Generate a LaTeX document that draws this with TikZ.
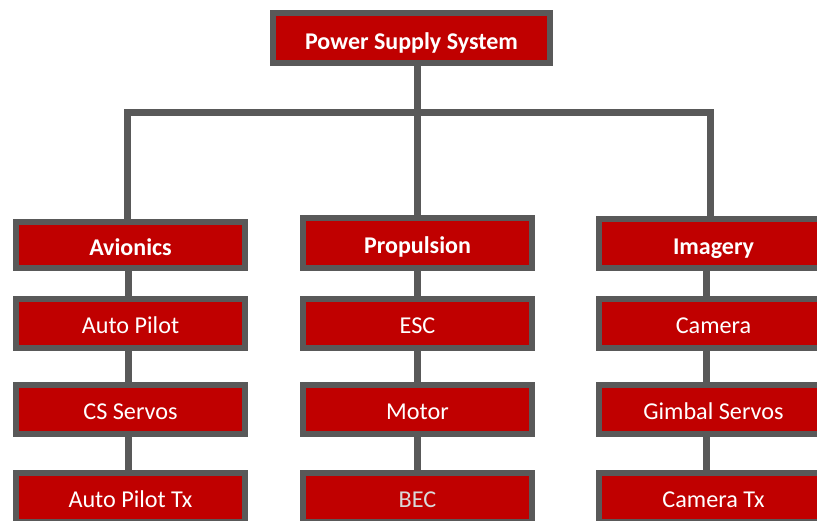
\documentclass[tikz,border=0pt]{standalone}
\usepackage{fontspec}
\setmainfont{Carlito}
\usepackage{tikz}
\definecolor{boxred}{HTML}{C00000}
\definecolor{rimgray}{HTML}{595959}
\definecolor{dimtxt}{HTML}{D9D9D9}
\tikzset{
	blk/.style={draw=rimgray,line width=6pt,fill=boxred,text=white,inner sep=0pt,minimum width=229pt,minimum height=49pt,font=\fontsize{24.2}{24}\selectfont,text height=20pt,text depth=0pt},
	head/.style={blk,font=\fontsize{24}{24}\selectfont\bfseries,text height=21pt},
	wire/.style={draw=rimgray,line width=7pt}
}

\begin{document}
\begin{tikzpicture}[x=1pt,y=-1pt]
	\useasboundingbox (0,0) rectangle (817,520);
	\node[head,minimum width=277pt,minimum height=50pt,text height=23pt] (top) at (411.5,38) {Power Supply System};
	\node[head,minimum height=46pt] (avio) at (130.5,245) {Avionics};
	\node[head,minimum height=50pt] (prop) at (417.5,243) {Propulsion};
	\node[head] (img) at (713.5,243.5) {Imagery};
	\node[blk] (ap) at (130.5,323.5) {Auto Pilot};
	\node[blk] (cs) at (130.5,409.5) {CS Servos};
	\node[blk] (aptx) at (130.5,497.5) {Auto Pilot Tx};
	\node[blk] (esc) at (417.5,323.5) {ESC};
	\node[blk] (motor) at (417.5,409.5) {Motor};
	\node[blk,text=dimtxt] (bec) at (417.5,497.5) {BEC};
	\node[blk] (cam) at (713.5,323.5) {Camera};
	\node[blk] (gimbal) at (713.5,409.5) {Gimbal Servos};
	\node[blk] (camtx) at (713.5,497.5) {Camera Tx};
	\coordinate (bar) at (0,112);
	\draw[wire] (top.south -| prop.north) -- (prop.north);
	\draw[wire] ([xshift=-3.5pt]avio.north) -- ([xshift=-3.5pt]avio.north |- bar) -- ([xshift=-3.5pt]img.north |- bar) -- ([xshift=-3.5pt]img.north);
	\draw[wire] ([xshift=-2pt]avio.south) -- ([xshift=-2pt]ap.north);
	\draw[wire] ([xshift=-2pt]ap.south) -- ([xshift=-2pt]cs.north);
	\draw[wire] ([xshift=-2pt]cs.south) -- ([xshift=-2pt]aptx.north);
	\draw[wire] (prop.south) -- (esc.north);
	\draw[wire] (esc.south) -- (motor.north);
	\draw[wire] (motor.south) -- (bec.north);
	\draw[wire] ([xshift=-7pt]img.south) -- ([xshift=-7pt]cam.north);
	\draw[wire] ([xshift=-7pt]cam.south) -- ([xshift=-7pt]gimbal.north);
	\draw[wire] ([xshift=-7pt]gimbal.south) -- ([xshift=-7pt]camtx.north);
\end{tikzpicture}
\end{document}
